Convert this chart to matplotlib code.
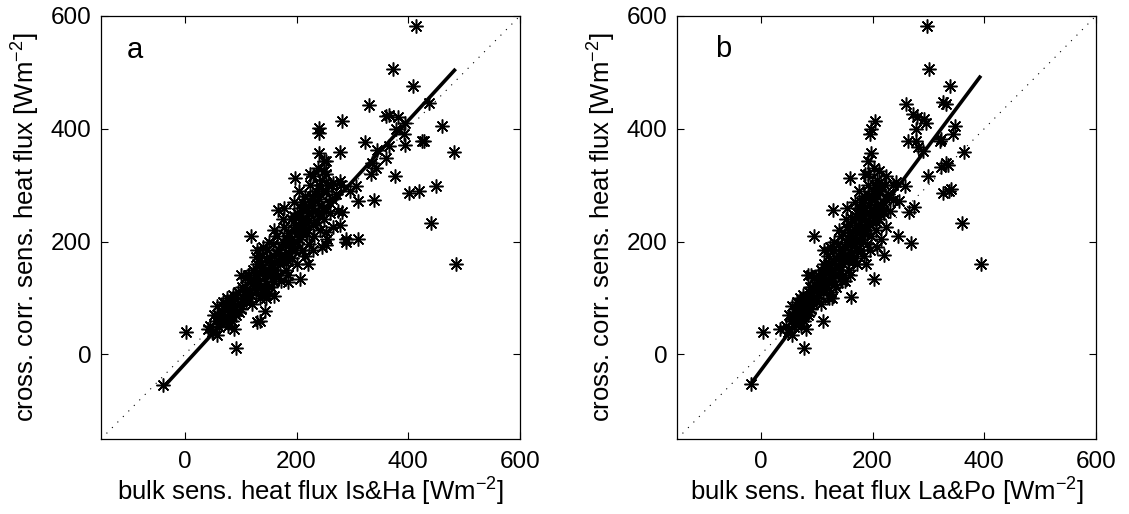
import matplotlib
matplotlib.use('Agg')
import matplotlib.pyplot as plt
import numpy as np

plt.rcParams['font.family'] = ['Liberation Sans', 'DejaVu Sans']
plt.rcParams['mathtext.fontset'] = 'custom'
plt.rcParams['mathtext.rm'] = 'Liberation Sans'
plt.rcParams['mathtext.it'] = 'Liberation Sans'
plt.rcParams['mathtext.default'] = 'regular'

# panel a: bulk Is&Ha vs cross corr.
a_x = [414, 373, 408, 438, 330, 282, 241, 241, 460, 482, 485, 440, 450, 402, 420, 425, 428,
       377, 339, 310, 310, 289, 288, 277, 281, 322, 345, 360, 366, 382, 394, 378, 393, 395,
       366, 360, 336, 342, 333, 307, 295, 277, 265, 277, 241, 253, 253, 229, 197, 119, 167,
       3, 92, -39, 42, 48, 134, 130, 144, 159, 150, 206, 185, 113, 128, 204, 253, 253, 241, 250,
       55, 60, 65, 70, 72, 75, 78, 80, 82, 85, 88, 90, 92, 95, 98, 100, 102, 105, 108, 110,
       112, 115, 118, 120, 62, 68, 88, 100, 58, 76,
       122, 125, 128, 130, 132, 135, 138, 140, 142, 145, 148, 150, 152, 155, 158, 160, 162,
       165, 168, 170, 172, 175, 178, 180, 182, 185, 188, 190, 192, 195, 198, 200, 200, 140,
       160, 175, 185, 150, 130, 195,
       202, 205, 208, 210, 212, 215, 218, 220, 222, 225, 228, 230, 232, 235, 238, 240, 242,
       245, 248, 250, 252, 255, 258, 260, 215, 225, 238, 245, 262, 265, 270, 275, 280, 205,
       230, 250, 210, 220, 190, 178,
       45, 50, 52, 58, 63, 67, 73, 77, 83, 86, 93, 97, 103, 107, 113, 117, 123, 127, 133, 137,
       143, 147, 153, 157, 163, 167, 173, 177, 183, 187, 193, 197, 203, 207, 213, 217, 223,
       227, 233, 237, 243, 247, 253, 257, 263, 140, 155, 170, 185, 200, 215, 230, 120, 135,
       160, 180, 195, 210, 225, 240]
a_y = [583, 506, 476, 445, 442, 413, 402, 393, 405, 359, 161, 232, 298, 286, 289, 379, 378,
       316, 274, 272, 205, 205, 199, 229, 253, 377, 363, 423, 425, 420, 411, 399, 390, 372,
       369, 349, 340, 331, 319, 298, 289, 307, 304, 358, 357, 342, 319, 316, 313, 210, 256,
       39, 12, -54, 45, 39, 60, 57, 76, 103, 109, 134, 128, 140, 173, 229, 193, 217, 253, 342,
       60, 70, 55, 80, 65, 90, 50, 75, 95, 60, 85, 100, 70, 110, 90, 80, 120, 100, 135, 95,
       115, 140, 105, 125, 48, 92, 45, 140, 85, 100,
       150, 130, 110, 160, 145, 120, 175, 155, 135, 100, 185, 165, 140, 120, 195, 175, 150,
       210, 185, 160, 130, 200, 225, 175, 150, 215, 195, 240, 170, 220, 185, 250, 160, 190,
       220, 240, 140, 200, 185, 270,
       230, 205, 260, 185, 240, 280, 215, 250, 195, 300, 265, 230, 210, 290, 250, 275, 220,
       310, 260, 240, 290, 205, 270, 250, 175, 320, 330, 190, 300, 225, 285, 255, 300, 290,
       185, 325, 270, 160, 205, 260,
       50, 40, 70, 35, 62, 75, 58, 82, 68, 105, 88, 75, 95, 112, 100, 128, 118, 140, 130, 160,
       150, 125, 170, 158, 180, 140, 190, 165, 205, 180, 195, 230, 215, 245, 225, 260, 238,
       280, 255, 235, 265, 290, 255, 300, 275, 110, 140, 175, 165, 200, 235, 275, 90, 100,
       130, 195, 245, 215, 270, 300]

# panel b: bulk La&Po vs cross corr.
b_x = [297, 302, 339, 326, 332, 260, 272, 280, 295, 292, 278, 347, 344, 263, 278, 281, 290,
       323, 320, 364, 323, 332, 335, 299, 326, 340, 337, 360, 394, 269, 266, 275, 204, 198,
       195, 198, 192, 186, 159, 96, 130, 4, 77, -18, 34, 111, 162, 202, 221, 245, 236, 248,
       224, 242, 259, 85, 88,
       55, 58, 62, 66, 68, 70, 72, 74, 76, 78, 80, 82, 84, 86, 88, 90, 92, 94, 96, 98,
       100, 102, 104, 106, 60, 64, 80, 90, 56, 70,
       108, 110, 112, 114, 116, 118, 121, 123, 125, 127, 129, 131, 133, 135, 138, 140, 142,
       144, 146, 148, 150, 152, 154, 156, 158, 160, 162, 164, 166, 168, 170, 172, 172, 123,
       140, 152, 160, 131, 114, 168,
       174, 176, 178, 180, 182, 184, 186, 188, 190, 192, 194, 196, 198, 200, 202, 204, 206,
       208, 210, 212, 214, 216, 218, 220, 184, 192, 202, 208, 222, 224, 228, 232, 236, 176,
       196, 212, 180, 188, 164, 154,
       45, 48, 50, 56, 58, 62, 66, 70, 74, 76, 82, 86, 92, 96, 100, 104, 110, 113, 120, 122,
       128, 132, 134, 138, 142, 148, 150, 156, 158, 164, 168, 170, 176, 178, 184, 186, 192,
       194, 200, 206, 208, 210, 218, 216, 224, 125, 138, 150, 165, 175, 188, 198, 108, 122,
       145, 160, 170, 185, 195, 205]
b_y = [583, 506, 476, 447, 443, 443, 426, 420, 411, 417, 399, 405, 390, 378, 378, 367, 361,
       381, 378, 359, 333, 339, 336, 316, 286, 294, 289, 232, 161, 198, 253, 261, 414, 400,
       391, 357, 342, 319, 313, 210, 256, 39, 12, -52, 45, 60, 102, 134, 176, 210, 274, 272,
       316, 306, 298, 140, 120,
       60, 70, 55, 80, 65, 90, 50, 75, 95, 60, 85, 100, 70, 110, 90, 80, 120, 100, 135, 95,
       115, 140, 105, 125, 48, 92, 45, 140, 85, 100,
       150, 130, 110, 160, 145, 120, 175, 155, 135, 100, 185, 165, 140, 120, 195, 175, 150,
       210, 185, 160, 130, 200, 225, 175, 150, 215, 195, 240, 170, 220, 185, 250, 160, 190,
       220, 240, 140, 200, 185, 270,
       230, 205, 260, 185, 240, 280, 215, 250, 195, 300, 265, 230, 210, 290, 250, 275, 220,
       310, 260, 240, 290, 205, 270, 250, 175, 320, 330, 190, 300, 225, 285, 255, 300, 290,
       185, 325, 270, 160, 205, 260,
       50, 40, 70, 35, 62, 75, 58, 82, 68, 105, 88, 75, 95, 112, 100, 128, 118, 140, 130, 160,
       150, 125, 170, 158, 180, 140, 190, 165, 205, 180, 195, 230, 215, 245, 225, 260, 238,
       280, 255, 235, 265, 290, 255, 300, 275, 110, 140, 175, 165, 200, 235, 275, 90, 100,
       130, 195, 245, 215, 270, 300]

# regression line end points
a_fit_x = [-39, 485]
a_fit_y = [-59, 506]
b_fit_x = [-17, 394]
b_fit_y = [-51, 494]

one_to_one = [-150, 600]
ticks = [0, 200, 400, 600]


def draw_panel(ax, x, y, fit_x, fit_y, letter, xlabel):
	ax.plot(one_to_one, one_to_one, color='k', lw=0.8, ls=(0, (1, 6)))
	ax.plot(x, y, ls='none', marker=(8, 2, 0), ms=10, mew=1.1, color='k')
	ax.plot(fit_x, fit_y, color='k', lw=2.6, solid_capstyle='butt')
	ax.set_xlim(-150, 600)
	ax.set_ylim(-150, 600)
	ax.set_xticks(ticks)
	ax.set_yticks(ticks)
	ax.tick_params(direction='in', top=True, right=True, labelsize=17.5, length=5, width=0.8)
	ax.tick_params(axis='y', pad=7)
	ax.tick_params(axis='x', pad=9)
	ax.text(letter[1], letter[2], letter[0], fontsize=21, ha='left', va='baseline')
	ax.set_xlabel(xlabel, fontsize=18.5, labelpad=2)
	ax.set_ylabel('cross. corr. sens. heat flux [Wm$^{-2}$]', fontsize=18.5, labelpad=6)
	for s in ax.spines.values():
		s.set_linewidth(0.9)


fig = plt.figure(figsize=(11.29, 5.14), dpi=100)
ax1 = fig.add_axes([0.0895, 0.146, 0.371, 0.823])
ax2 = fig.add_axes([0.5997, 0.146, 0.371, 0.823])

draw_panel(ax1, a_x, a_y, a_fit_x, a_fit_y, ('a', -104, 525), 'bulk sens. heat flux Is&Ha [Wm$^{-2}$]')
draw_panel(ax2, b_x, b_y, b_fit_x, b_fit_y, ('b', -82, 527), 'bulk sens. heat flux La&Po [Wm$^{-2}$]')

fig.savefig('out.png', dpi=100)
